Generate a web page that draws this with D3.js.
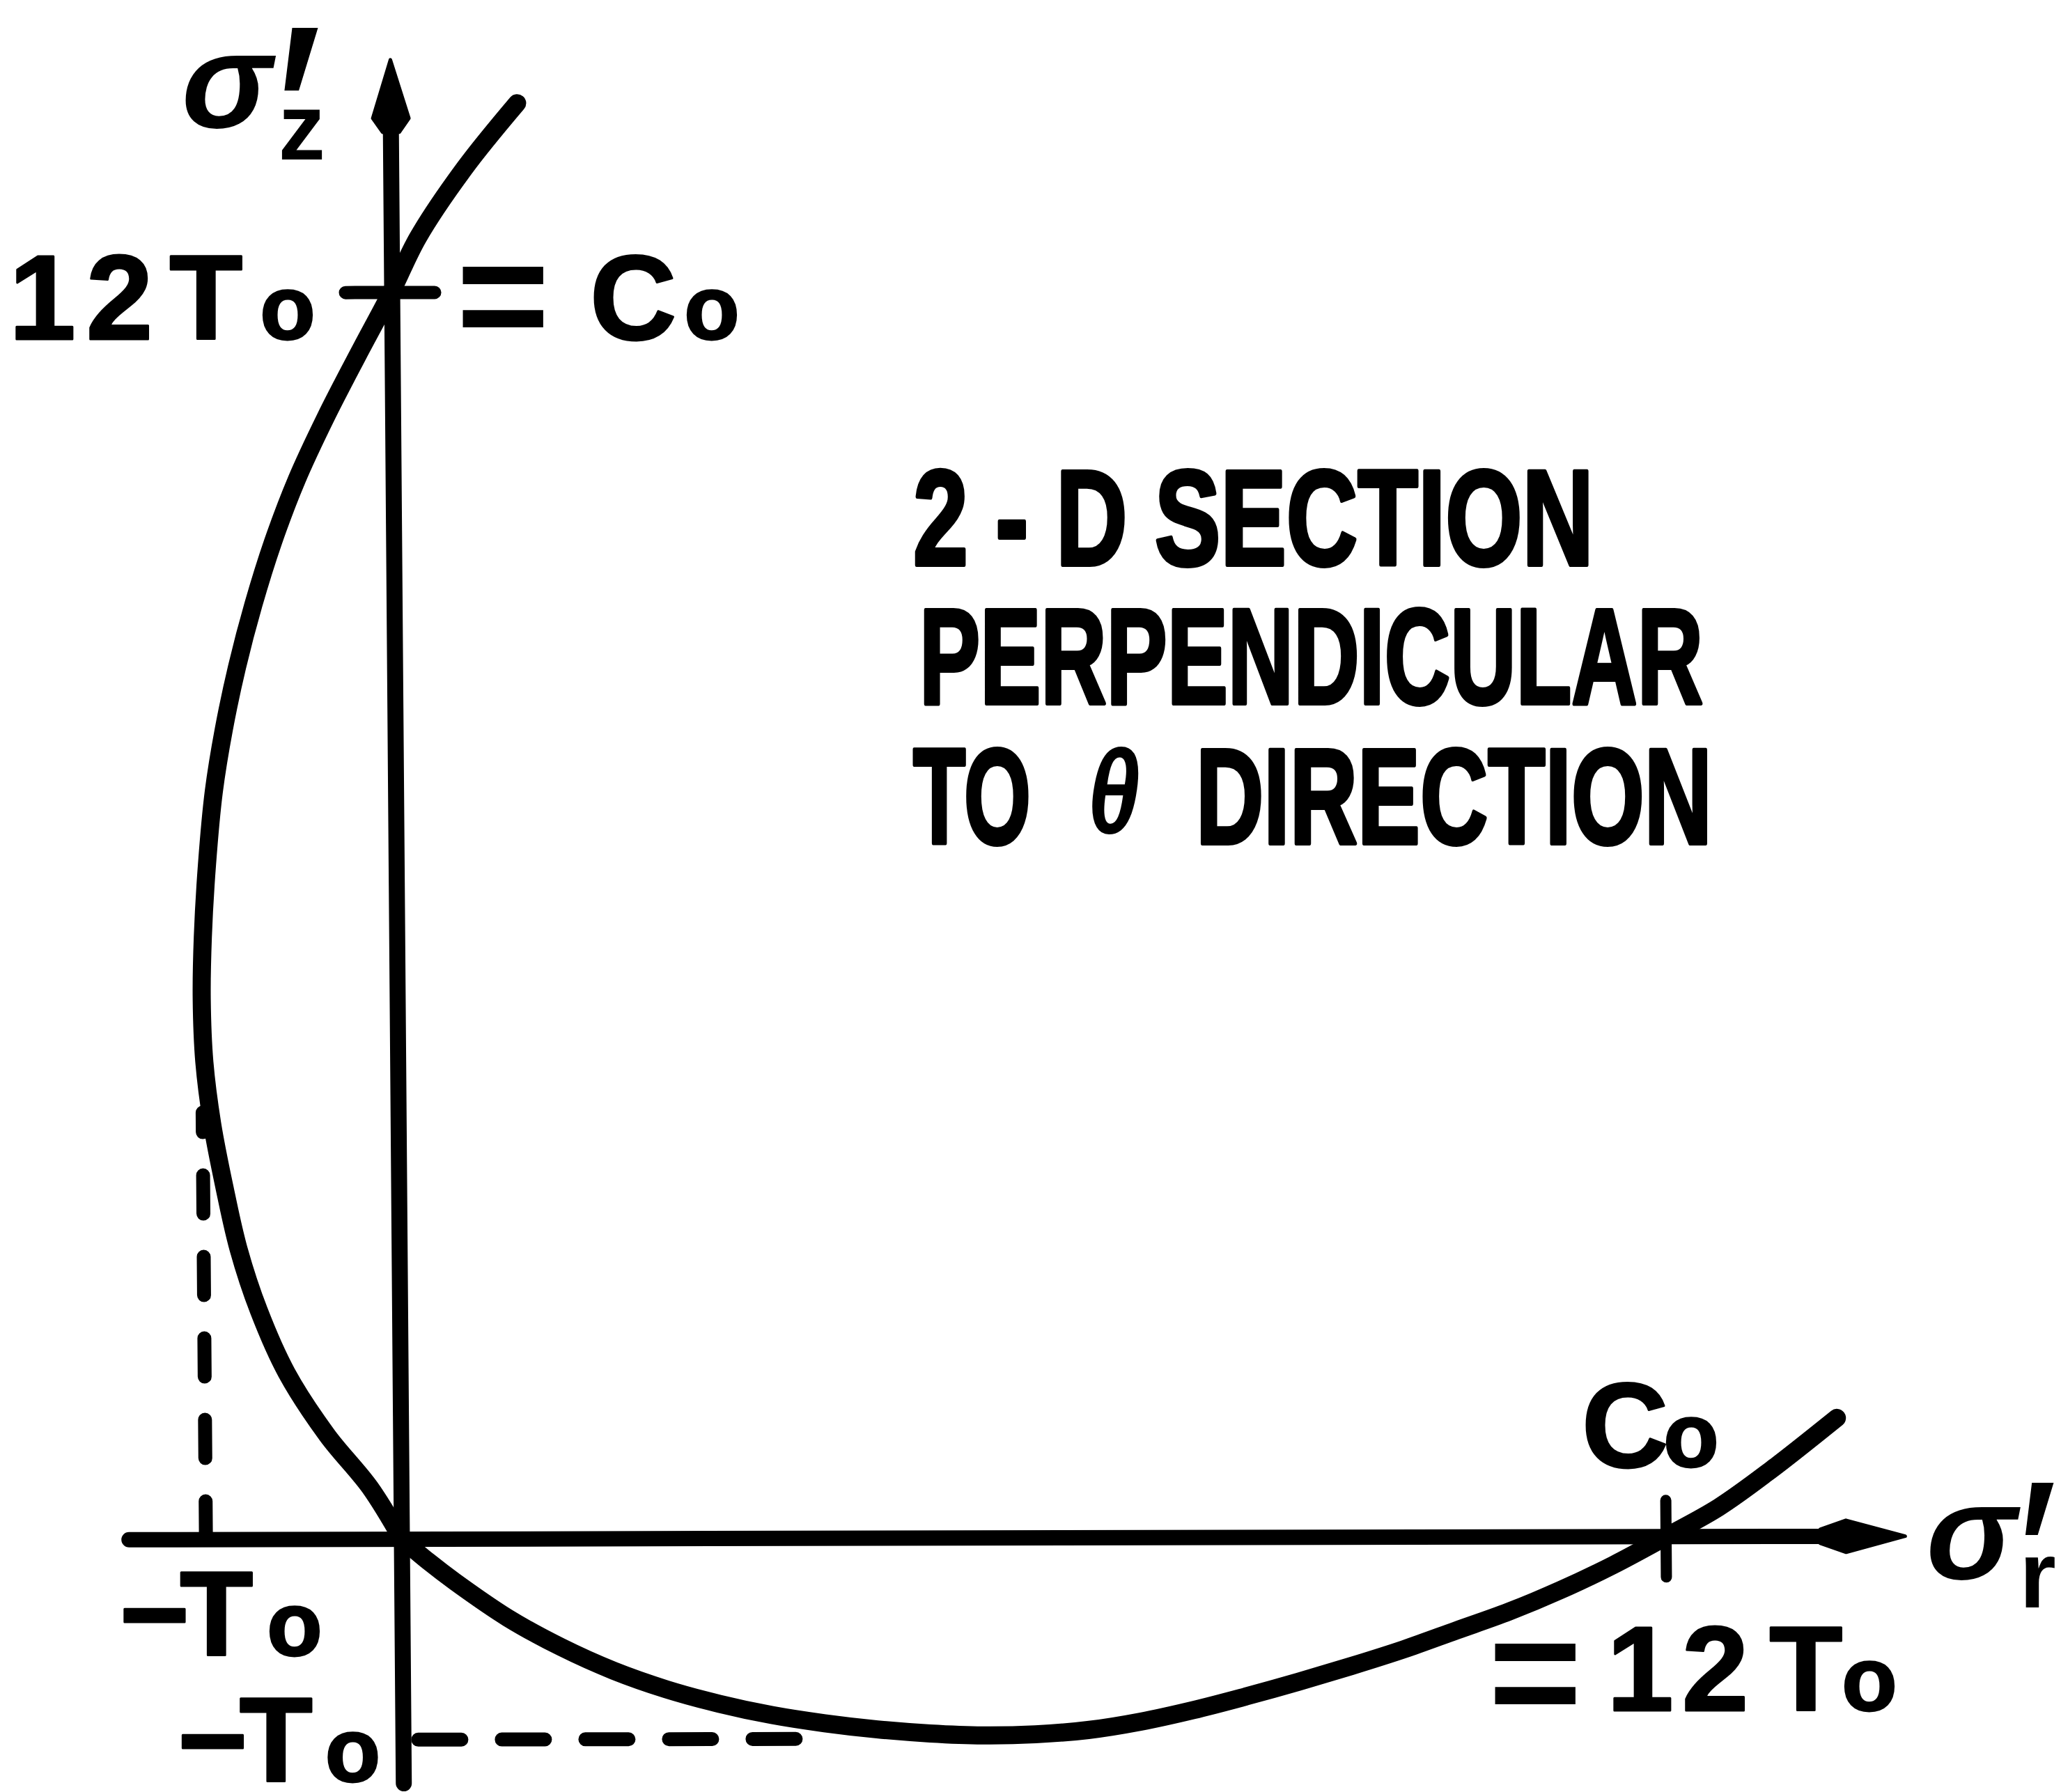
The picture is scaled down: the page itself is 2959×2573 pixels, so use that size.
<!DOCTYPE html>
<html>
<head>
<meta charset="utf-8">
<script src="https://cdn.jsdelivr.net/npm/d3@7"></script>
<style>
  html, body { margin: 0; padding: 0; background: #fff; }
  svg { display: block; background: #fff; }
  text { font-family: "Liberation Sans", Arial, sans-serif; font-weight: bold; fill: #000; white-space: pre; }
</style>
</head>
<body>
<svg id="chart" width="2959" height="2573"></svg>
<script>
// Yield locus, 2-D section in the (σ'r, σ'z) plane; stresses in units of To (Co = 12 To)
// upper-left branch: from the σ'z side down to the origin
const leftBranch = [
  [1.20, 13.82], [0.70, 13.20], [0.25, 12.53], [0.00, 12.02], [-0.33, 11.40],
  [-0.64, 10.80], [-0.92, 10.20], [-1.15, 9.60], [-1.34, 9.00], [-1.50, 8.40],
  [-1.63, 7.80], [-1.73, 7.20], [-1.80, 6.50], [-1.845, 5.80], [-1.86, 5.20],
  [-1.84, 4.60], [-1.77, 4.00], [-1.66, 3.40], [-1.53, 2.80], [-1.34, 2.20],
  [-1.08, 1.60], [-0.70, 1.00], [-0.30, 0.50], [0.00, 0.00]
];
// lower branch: from the origin out past Co on the σ'r axis
const lowerBranch = [
  [0.00, 0.00], [0.25, -0.215], [0.50, -0.41], [1.00, -0.76], [1.50, -1.04],
  [2.00, -1.27], [2.50, -1.45], [3.00, -1.59], [3.50, -1.70], [4.00, -1.78],
  [4.50, -1.84], [5.00, -1.88], [5.50, -1.90], [6.00, -1.89], [6.50, -1.85],
  [7.00, -1.77], [7.50, -1.66], [8.00, -1.53], [8.50, -1.39], [9.00, -1.24],
  [9.50, -1.08], [10.00, -0.90], [10.50, -0.72], [11.00, -0.51], [11.50, -0.27],
  [12.00, 0.00], [12.50, 0.28], [13.00, 0.64], [13.63, 1.14]
];

// axis extents (σ'r and σ'z, in To)
const rAxisExtent = [-2.59, 14.27];
const zAxisExtent = [-2.35, 14.24];

// tick values and labels
const rTickValues = [-1.86, 12];
const rTickLabels = ["−To", "Co"];
const zTickValues = [-1.93, 12];
const zTickLabels = ["−To", "12 To"];
const equalityLabels = ["= Co", "= 12 To"];

// dashed guides from the -To marks to the locus
const rGuide = { at: -1.86, from: 0, to: 4.11 };   // vertical, σ'r = -To
const zGuide = { at: -1.93, from: 0.14, to: 4.0 }; // horizontal, σ'z = -To

const titleLines = ["2 - D SECTION", "PERPENDICULAR", "TO θ DIRECTION"];
const axisNames = { r: ["σ", "′", "r"], z: ["σ", "′", "z"] };

const svg = d3.select("#chart");
const X = d3.scaleLinear().domain([0, 12]).range([577, 2392]);
const Y = d3.scaleLinear().domain([0, 12]).range([2210, 420]);

// slight shear of the hand-drawn axes
const SKX = 0.0078, SKY = -0.002;
const ox = X(0), oy = Y(0);
function P(u, v) {
  const dx = X(u) - ox, dy = Y(v) - oy;
  return [ox + dx + SKX * dy, oy + SKY * dx + dy];
}

const plot = svg.append("g")
  .attr("transform", `translate(${ox},${oy}) matrix(1,${SKY},${SKX},1,0,0) translate(${-ox},${-oy})`);

const INK = "#000";

// axes
plot.append("line")
  .attr("x1", X(rAxisExtent[0])).attr("x2", X(rAxisExtent[1]) - 110)
  .attr("y1", Y(0)).attr("y2", Y(0))
  .attr("stroke", INK).attr("stroke-width", 22).attr("stroke-linecap", "round");
plot.append("line")
  .attr("x1", X(0)).attr("x2", X(0))
  .attr("y1", Y(zAxisExtent[0])).attr("y2", Y(zAxisExtent[1]) + 95)
  .attr("stroke", INK).attr("stroke-width", 23).attr("stroke-linecap", "round");

// arrowheads
{
  const tx = X(rAxisExtent[1]), ty = Y(0);
  plot.append("path")
    .attr("d", `M${tx},${ty} L${tx - 85},${ty - 23} L${tx - 122},${ty - 10} L${tx - 122},${ty + 10} L${tx - 85},${ty + 23} Z`)
    .attr("fill", INK).attr("stroke", INK).attr("stroke-width", 5).attr("stroke-linejoin", "round");
  const vx = X(0), vy = Y(zAxisExtent[1]);
  plot.append("path")
    .attr("d", `M${vx},${vy} L${vx + 26},${vy + 84} L${vx + 12},${vy + 104} L${vx - 12},${vy + 104} L${vx - 26},${vy + 84} Z`)
    .attr("fill", INK).attr("stroke", INK).attr("stroke-width", 5).attr("stroke-linejoin", "round");
}

// ticks at Co (σ'r) and 12 To (σ'z)
plot.append("line")
  .attr("x1", X(0) - 67).attr("x2", X(0) + 61)
  .attr("y1", Y(zTickValues[1])).attr("y2", Y(zTickValues[1]))
  .attr("stroke", INK).attr("stroke-width", 19).attr("stroke-linecap", "round");
plot.append("line")
  .attr("x1", X(rTickValues[1])).attr("x2", X(rTickValues[1]))
  .attr("y1", Y(0) - 52).attr("y2", Y(0) + 58)
  .attr("stroke", INK).attr("stroke-width", 16).attr("stroke-linecap", "round");

// dashed guides
plot.append("line")
  .attr("x1", X(rGuide.at)).attr("x2", X(rGuide.at))
  .attr("y1", Y(rGuide.from)).attr("y2", Y(rGuide.to))
  .attr("stroke", INK).attr("stroke-width", 20).attr("stroke-linecap", "round")
  .attr("stroke-dasharray", "55 62");
plot.append("line")
  .attr("x1", X(zGuide.from)).attr("x2", X(zGuide.to))
  .attr("y1", Y(zGuide.at)).attr("y2", Y(zGuide.at))
  .attr("stroke", INK).attr("stroke-width", 20).attr("stroke-linecap", "round")
  .attr("stroke-dasharray", "62 58");

// yield locus (corner at the origin between the two branches)
const line = d3.line().x(d => X(d[0])).y(d => Y(d[1])).curve(d3.curveCatmullRom.alpha(0.5));
[leftBranch, lowerBranch].forEach(branch => {
  plot.append("path")
    .attr("d", line(branch))
    .attr("fill", "none").attr("stroke", INK).attr("stroke-width", 26)
    .attr("stroke-linecap", "round").attr("stroke-linejoin", "round");
});

// ---- labels ----
const labels = svg.append("g");

function label(str, x, y, size, small, gaps) {
  const t = labels.append("text").attr("x", x).attr("y", y)
    .attr("stroke", INK).attr("stroke-width", 3).attr("stroke-linejoin", "round");
  Array.from(str).forEach((ch, i) => {
    t.append("tspan")
      .attr("dx", (gaps && gaps[i]) || 0)
      .attr("font-size", ch === "o" ? small : size)
      .text(ch);
  });
  return t;
}
function equals(x, y) {
  labels.append("text").attr("x", x).attr("y", y).attr("font-size", 230).text("=");
}

const A = P(0, zTickValues[1]);
label(zTickLabels[1], A[0] - 550, A[1] + 67, 172, 130, [0, 15, 0, -24, 25]);
equals(A[0] + 92, A[1] + 83);
label(equalityLabels[0].slice(2), A[0] + 284, A[1] + 67, 172, 130, [0, 11]);

const B = P(rTickValues[1], 0);
label(rTickLabels[1], B[0] - 121, B[1] - 100, 172, 130, [0, -7]);
equals(B[0] - 255, B[1] + 274);
label(equalityLabels[1].slice(2), B[0] - 85, B[1] + 250, 172, 130, [0, 12, 0, -18, -1]);

const C = P(rTickValues[0], 0);
label(rTickLabels[0], C[0] - 124, C[1] + 166, 172, 130, [0, -14, 20]);

const D = P(0, zTickValues[0]);
label(zTickLabels[0], D[0] - 324, D[1] + 60, 172, 130, [0, -12, 18]);

// axis names σ'z and σ'r
function axisName(parts, pos, o) {
  const t = labels.append("text");
  t.append("tspan").attr("x", pos[0] + o.s[0]).attr("y", pos[1] + o.s[1])
    .attr("font-size", 195).attr("font-style", "italic").text(parts[0]);
  t.append("tspan").attr("x", pos[0] + o.p[0]).attr("y", pos[1] + o.p[1])
    .attr("font-size", o.ps).attr("font-style", "italic").attr("font-weight", "normal")
    .attr("stroke", INK).attr("stroke-width", 4).text(parts[1]);
  t.append("tspan").attr("x", pos[0] + o.b[0]).attr("y", pos[1] + o.b[1])
    .attr("font-size", 135).text(parts[2]);
}
axisName(axisNames.z, P(0, zAxisExtent[1]), { s: [-300, 97], p: [-180, 190], ps: 340, b: [-161, 143] });
axisName(axisNames.r, P(rAxisExtent[1], 0), { s: [30, 61], p: [150, 118], ps: 280, b: [164, 102] });

// title block
const title = svg.append("g").attr("stroke", INK).attr("stroke-width", 6).attr("stroke-linejoin", "round");
title.append("text").attr("x", 1311).attr("y", 811).attr("font-size", 195)
  .attr("textLength", 977).attr("lengthAdjust", "spacingAndGlyphs").text(titleLines[0]);
title.append("text").attr("x", 1320).attr("y", 1010).attr("font-size", 195)
  .attr("textLength", 1125).attr("lengthAdjust", "spacingAndGlyphs").text(titleLines[1]);
const words = titleLines[2].split(" ");
title.append("text").attr("x", 1311).attr("y", 1211).attr("font-size", 195)
  .attr("textLength", 169).attr("lengthAdjust", "spacingAndGlyphs").text(words[0]);
title.append("text").attr("x", 1561).attr("y", 1196).attr("font-size", 170)
  .attr("font-style", "italic").attr("font-weight", "normal").attr("stroke-width", 0)
  .attr("textLength", 76).attr("lengthAdjust", "spacingAndGlyphs").text(words[1]);
title.append("text").attr("x", 1717).attr("y", 1211).attr("font-size", 195)
  .attr("textLength", 741).attr("lengthAdjust", "spacingAndGlyphs").text(words[2]);
</script>
</body>
</html>
